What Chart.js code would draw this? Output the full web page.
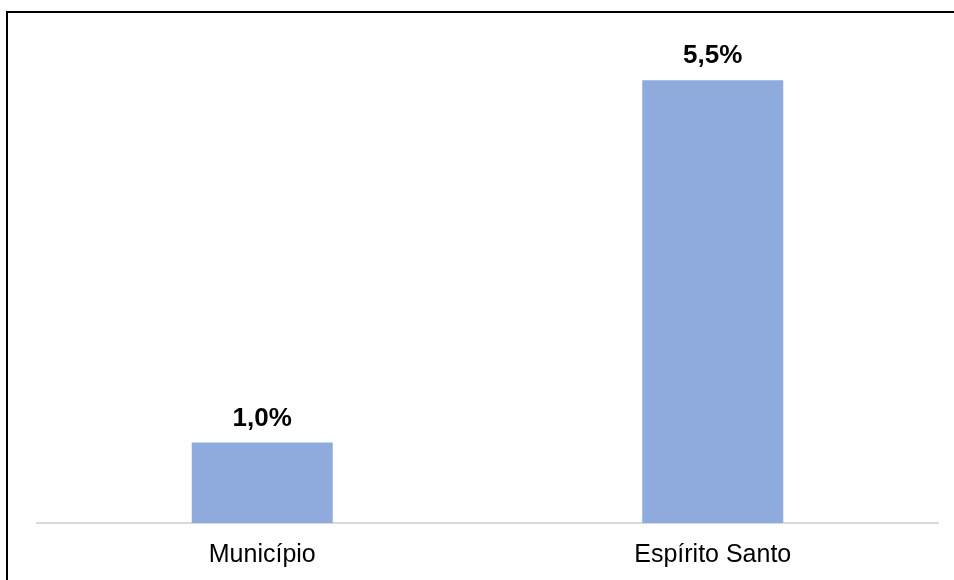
<!DOCTYPE html>
<html>
<head>
<meta charset="utf-8">
<script src="https://cdn.jsdelivr.net/npm/chart.js@4/dist/chart.umd.min.js"></script>
<style>
  html, body { margin:0; padding:0; background:#fff; }
  #wrap { position:relative; width:954px; height:580px; overflow:hidden; }
  #frame { position:absolute; left:6px; top:11px; right:-10px; bottom:-10px;
           border-left:2px solid #000; border-top:2px solid #000; pointer-events:none; }
  canvas { position:absolute; left:0; top:0; }
</style>
</head>
<body>
<div id="wrap">
  <canvas id="chart" width="954" height="580"></canvas>
  <div id="frame"></div>
</div>
<script>
  const categories = ["Município", "Espírito Santo"];
  const values = [1.0, 5.5];
  const valueLabels = ["1,0%", "5,5%"];

  // labels drawn above each bar
  const barLabels = {
    id: 'barLabels',
    afterDatasetsDraw(chart){
      const ctx = chart.ctx;
      const meta = chart.getDatasetMeta(0);
      ctx.save();
      ctx.font = 'bold 26px "Liberation Sans", Arial, sans-serif';
      ctx.fillStyle = '#000';
      ctx.textAlign = 'center';
      ctx.textBaseline = 'alphabetic';
      meta.data.forEach((bar, i) => {
        ctx.fillText(valueLabels[i], bar.x, bar.y - 17);
      });
      ctx.restore();
    }
  };

  new Chart(document.getElementById("chart").getContext("2d"), {
    type: 'bar',
    data: {
      labels: categories,
      datasets: [{
        data: values,
        backgroundColor: '#8FAADC',
        categoryPercentage: 1,
        barPercentage: 0.313
      }]
    },
    options: {
      responsive: false,
      animation: false,
      devicePixelRatio: 1,
      layout: { padding: { left: 37, right: 16, top: 40, bottom: -7 } },
      plugins: { legend: { display: false }, tooltip: { enabled: false } },
      scales: {
        y: { display: false, min: 0, max: 6 },
        x: {
          grid: { display: false, drawTicks: false },
          border: { color: '#d9d9d9', width: 2 },
          ticks: {
            color: '#000',
            padding: 17,
            font: { family: '"Liberation Sans", Arial, sans-serif', size: 25 }
          }
        }
      }
    },
    plugins: [barLabels]
  });
</script>
</body>
</html>
